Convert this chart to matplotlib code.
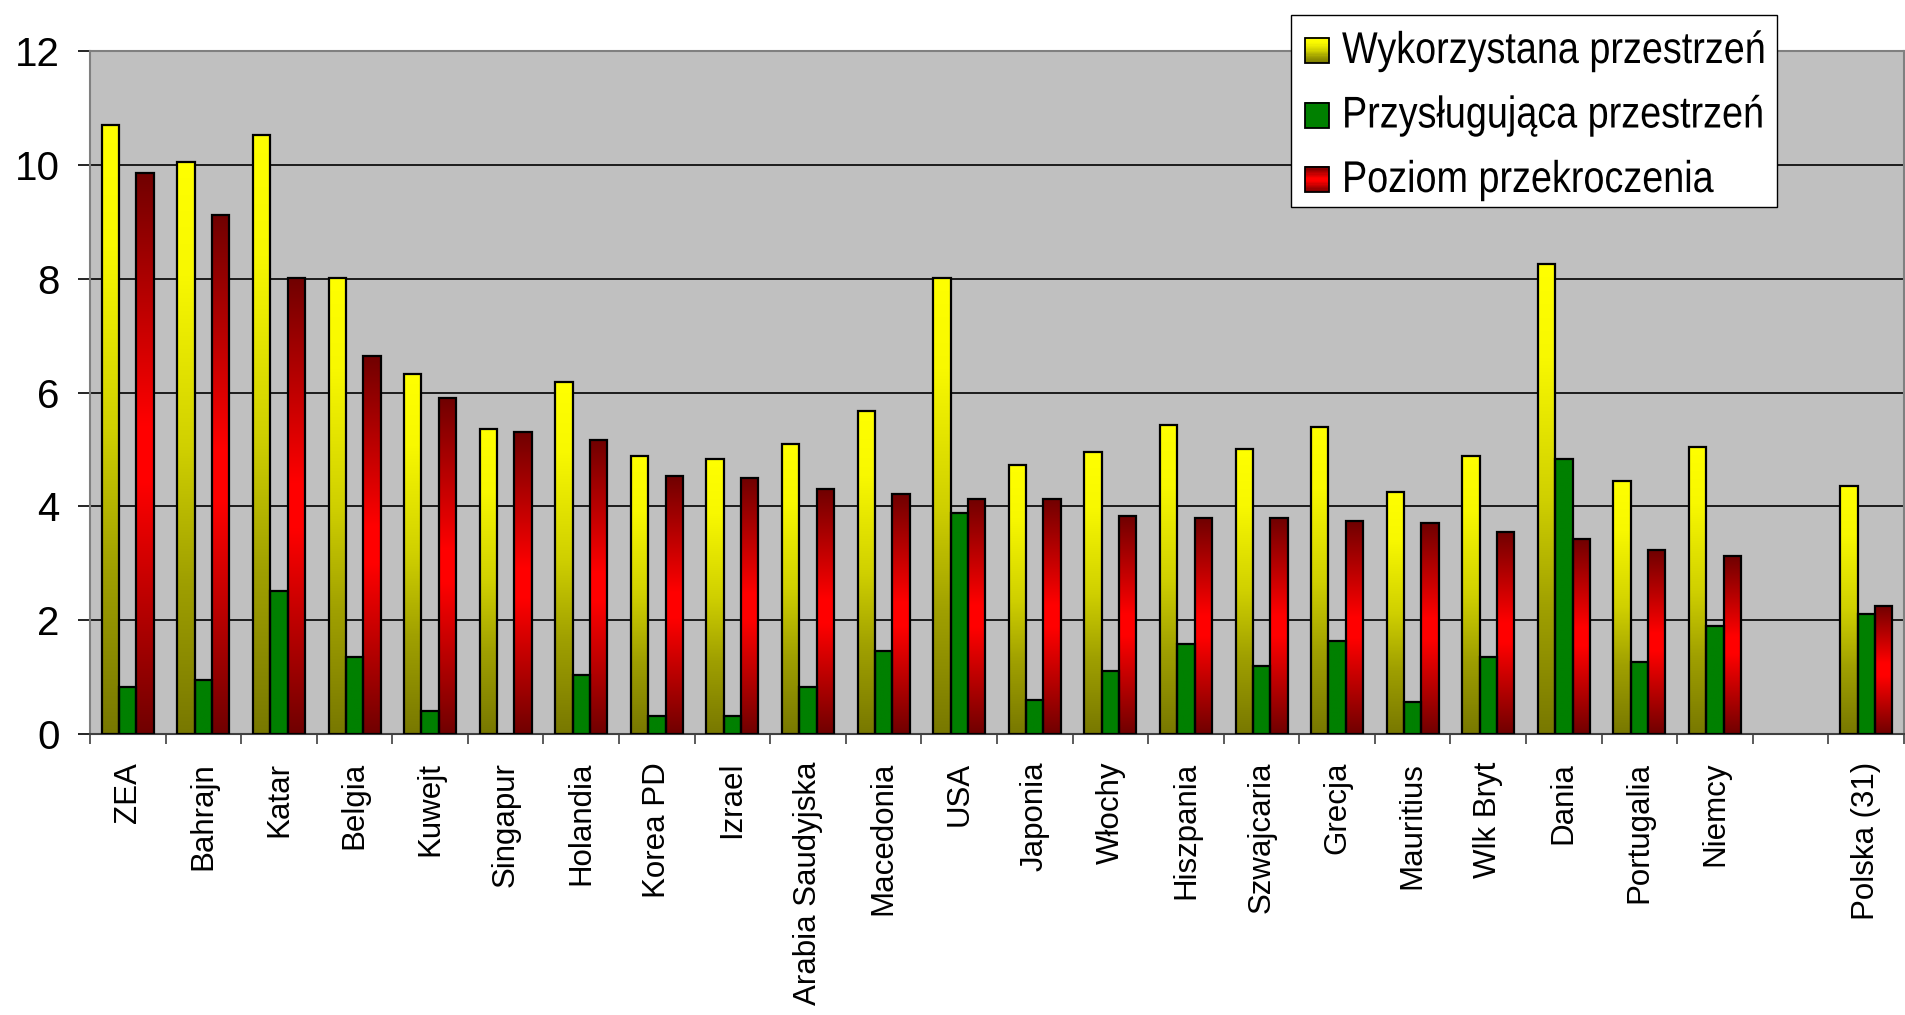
import numpy as np
import matplotlib
matplotlib.use('Agg')
import matplotlib.pyplot as plt
from matplotlib.colors import LinearSegmentedColormap
from matplotlib.patches import Rectangle
from matplotlib.patheffects import AbstractPathEffect
from matplotlib.transforms import Affine2D

plt.rcParams['font.family'] = ['Liberation Sans', 'DejaVu Sans']

# kraje (pusta pozycja oddziela Polskę od reszty)
kraje = ['ZEA', 'Bahrajn', 'Katar', 'Belgia', 'Kuwejt', 'Singapur', 'Holandia',
         'Korea PD', 'Izrael', 'Arabia Saudyjska', 'Macedonia', 'USA', 'Japonia',
         'Włochy', 'Hiszpania', 'Szwajcaria', 'Grecja', 'Mauritius', 'Wlk Bryt',
         'Dania', 'Portugalia', 'Niemcy', '', 'Polska (31)']

wykorzystana = [10.70, 10.05, 10.52, 8.02, 6.33, 5.35, 6.18, 4.88, 4.83, 5.09, 5.67,
                8.02, 4.73, 4.96, 5.43, 5.01, 5.39, 4.26, 4.88, 8.26, 4.45, 5.05,
                np.nan, 4.36]
przyslugujaca = [0.83, 0.94, 2.52, 1.35, 0.41, 0.0, 1.03, 0.32, 0.32, 0.83, 1.45,
                 3.89, 0.60, 1.11, 1.58, 1.20, 1.63, 0.56, 1.35, 4.83, 1.26, 1.90,
                 np.nan, 2.10]
przekroczenie = [9.86, 9.11, 8.02, 6.65, 5.90, 5.30, 5.16, 4.53, 4.49, 4.30, 4.21,
                 4.13, 4.13, 3.83, 3.79, 3.79, 3.74, 3.70, 3.55, 3.42, 3.23, 3.12,
                 np.nan, 2.25]

etykiety = ['Wykorzystana przestrzeń', 'Przysługująca przestrzeń', 'Poziom przekroczenia']

# gradienty (0 = dół słupka, 1 = góra)
cm_zolty = LinearSegmentedColormap.from_list(
    'zolty', [(0.0, '#787800'), (0.27, '#a0a000'), (0.5, '#d0d000'),
              (0.8, '#f8f800'), (1.0, '#ffff00')])
cm_czerwony = LinearSegmentedColormap.from_list(
    'czerwony', [(0.0, '#700000'), (0.45, '#ff0000'), (0.55, '#ff0000'),
                 (1.0, '#700000')])
cm_zielony = LinearSegmentedColormap.from_list('zielony', ['#008000', '#008000'])
kolory = [cm_zolty, cm_zielony, cm_czerwony]


class Zwezenie(AbstractPathEffect):
    """Ścieśnia napis w poziomie (jak czcionka 'narrow')."""

    def __init__(self, sx):
        super().__init__()
        self.sx = sx

    def draw_path(self, renderer, gc, tpath, affine, rgbFace=None):
        tr = Affine2D().scale(self.sx, 1) + affine
        renderer.draw_path(gc, tpath, tr, rgbFace)


W, H = 1906, 1015
fig = plt.figure(figsize=(W / 100, H / 100), dpi=100)
ax = fig.add_axes([90 / W, 1 - 734 / H, 1814 / W, 683 / H])
ax.set_facecolor('#c0c0c0')

x = np.arange(len(kraje)) + 0.5
w = 0.229
grad = np.linspace(0, 1, 256).reshape(-1, 1)


def slupki(pozycje, wartosci, cmap):
    bars = ax.bar(pozycje, wartosci, w, facecolor='none', edgecolor='black',
                  linewidth=1.6, zorder=4)
    for r in bars:
        h = r.get_height()
        if np.isnan(h) or h <= 0:
            continue
        x0 = r.get_x()
        ax.imshow(grad, extent=[x0, x0 + w, 0, h], origin='lower', aspect='auto',
                  cmap=cmap, vmin=0, vmax=1, zorder=3, interpolation='bilinear')
    return bars


slupki(x - w, wykorzystana, cm_zolty)
slupki(x, przyslugujaca, cm_zielony)
slupki(x + w, przekroczenie, cm_czerwony)

ax.set_xlim(0, len(kraje))
ax.set_ylim(0, 12)
ax.set_yticks(range(0, 13, 2))
for yv in range(2, 12, 2):
    ax.axhline(yv, color='black', linewidth=1.2, zorder=1)

# kreski na granicach kategorii, podpisy pośrodku
ax.set_xticks(np.arange(len(kraje) + 1))
ax.set_xticklabels([])
ax.set_xticks(x, minor=True)
ax.set_xticklabels(kraje, minor=True, rotation=90, fontsize=22.5, va='top')
ax.tick_params(axis='x', which='minor', length=0, pad=20)
ax.tick_params(axis='x', which='major', length=7, width=1.2, color='#404040')
ax.tick_params(axis='y', length=9, width=1.2, labelsize=29, pad=13)

for s in ['left', 'top', 'right']:
    ax.spines[s].set_color('#808080')
    ax.spines[s].set_linewidth(1.5)
ax.spines['bottom'].set_color('#404040')
ax.spines['bottom'].set_linewidth(1.5)

# legenda rysowana ręcznie (piksele od lewego górnego rogu)
fig.add_artist(Rectangle((1291 / W, 1 - 207 / H), 486 / W, 192 / H,
                         transform=fig.transFigure, facecolor='white',
                         edgecolor='black', linewidth=1.0, zorder=5))
for i, (txt, cmap) in enumerate(zip(etykiety, kolory)):
    yb = 63 + 64.5 * i
    n = 20
    for k in range(n):
        fig.add_artist(Rectangle((1305 / W, 1 - (yb - 25 * k / n) / H), 24 / W,
                                 25 / n / H + 0.0005, transform=fig.transFigure,
                                 facecolor=cmap((k + 0.5) / n), edgecolor='none',
                                 zorder=6))
    fig.add_artist(Rectangle((1305 / W, 1 - yb / H), 24 / W, 25 / H,
                             transform=fig.transFigure, facecolor='none',
                             edgecolor='black', linewidth=1.3, zorder=7))
    fig.text(1342 / W, 1 - yb / H, txt, fontsize=32, va='baseline', ha='left',
             zorder=8, path_effects=[Zwezenie(0.85)])

fig.savefig('out.png', dpi=100)
